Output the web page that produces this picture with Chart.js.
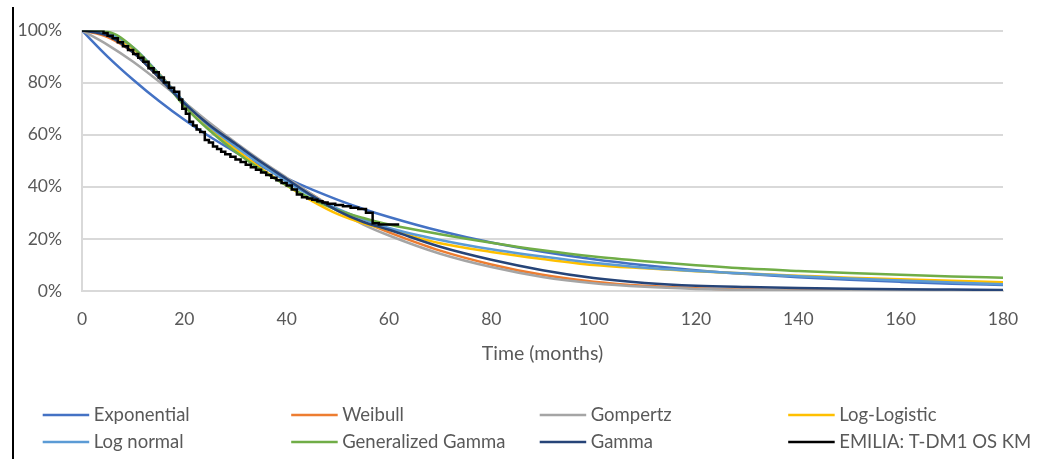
<!DOCTYPE html>
<html>
<head>
<meta charset="utf-8">
<script src="https://cdn.jsdelivr.net/npm/chart.js@4.4.1/dist/chart.umd.min.js"></script>
<style>
  html, body { margin: 0; padding: 0; background: #fff; }
  #wrap { position: relative; width: 1040px; height: 459px; }
</style>
</head>
<body>
<div id="wrap"><canvas id="survChart" width="1040" height="459"></canvas></div>
<script>
// time points (months) for the fitted curves
const months = [0, 5, 10, 15, 20, 25, 30, 35, 40, 45, 50, 55, 60, 70, 80, 90, 100, 110, 120, 130, 140, 150, 160, 170, 180];

// survival (%)
const exponential = [100, 90.0, 81.1, 73.0, 65.7, 59.2, 53.3, 47.9, 43.2, 38.9, 35.0, 31.5, 28.4, 23.0, 18.6, 15.1, 12.2, 9.9, 8.0, 6.5, 5.3, 4.3, 3.5, 2.8, 2.3];
const weibull = [100, 97.5, 91.5, 82, 72, 64, 56.5, 49.5, 43, 37, 31, 26.5, 22.5, 15.5, 10.2, 6.2, 3.6, 2.0, 1.1, 0.6, 0.3, 0.15, 0.08, 0.04, 0.02];
const gompertz = [100, 94.5, 88, 80.5, 72.5, 64.5, 57, 50, 43.5, 37, 30.8, 25.5, 21.3, 14.3, 9.2, 5.4, 3.0, 1.6, 0.8, 0.35, 0.15, 0.06, 0.02, 0.01, 0];
const logLogistic = [100, 98.5, 93, 83.5, 72.5, 62.5, 54.5, 47, 40.5, 34.5, 29.5, 26, 23.5, 18.3, 15, 12.3, 10.0, 8.7, 7.6, 6.7, 5.9, 5.1, 4.5, 3.9, 3.4];
const logNormal = [100, 99, 93.5, 83.5, 72.5, 63, 55.5, 48.5, 42, 36.3, 31.5, 27.5, 24.2, 19.6, 16.0, 13.2, 10.8, 8.9, 7.7, 6.7, 5.7, 4.8, 4.0, 3.3, 2.6];
const genGamma = [100, 99.5, 93.5, 83, 71, 61.5, 53.5, 46.5, 40.5, 35.3, 31, 28, 25.5, 21.8, 18.5, 15.6, 13.2, 11.4, 9.9, 8.6, 7.7, 6.9, 6.2, 5.6, 5.1];
const gamma = [100, 98, 91.5, 82, 72, 63.5, 56.5, 49.5, 43, 36.5, 30.8, 26.5, 23.5, 17, 12, 8, 5, 3.1, 2.0, 1.5, 1.15, 0.9, 0.7, 0.55, 0.4];

// Kaplan-Meier steps
const kmTime = [0, 4.2, 5, 6, 7, 8, 9, 10, 11, 12, 13, 14, 15, 16, 17, 18, 19, 19.6, 20.3, 21, 21.7, 22.4, 23.1, 24, 24.8, 25.6, 26.4, 27.2, 28, 29, 30, 31, 32, 33, 34, 35, 36, 37, 38, 39, 40, 41, 42, 43, 44, 45, 46, 47, 48, 49.5, 51, 52.5, 54, 55.5, 56.8, 58, 62];
const kmSurv = [100, 99, 98, 97, 95.5, 94, 92.5, 91, 89.5, 88, 85.5, 84, 82, 80, 78, 76.5, 73.5, 70, 68, 65, 63.5, 62, 61, 58, 57, 55.5, 54.5, 53.5, 52.5, 51.5, 50.5, 49.5, 48.5, 47.5, 46.5, 45.5, 44.5, 43.5, 42.5, 41.5, 40.5, 39, 37, 36, 35.5, 35, 34.5, 34, 33.5, 33, 32.5, 32, 31.5, 30, 26, 25.5, 25.5];

const yTicks = [0, 20, 40, 60, 80, 100];
const xTicks = [0, 20, 40, 60, 80, 100, 120, 140, 160, 180];

const seriesNames = ['Exponential', 'Weibull', 'Gompertz', 'Log-Logistic', 'Log normal', 'Generalized Gamma', 'Gamma', 'EMILIA: T-DM1 OS KM'];
const seriesColors = ['#4472C4', '#ED7D31', '#A5A5A5', '#FFC000', '#5B9BD5', '#70AD47', '#264478', '#000000'];
const curves = [exponential, weibull, gompertz, logLogistic, logNormal, genGamma, gamma];

const FONT = 'Lato, "Open Sans", sans-serif';
const TEXT = '#595959';

function toPoints(xs, ys) {
    return xs.map((x, i) => ({ x: x, y: ys[i] }));
}

const datasets = curves.map((c, i) => ({
    label: seriesNames[i],
    data: toPoints(months, c),
    borderColor: seriesColors[i],
    borderWidth: 2.5,
    pointRadius: 0,
    cubicInterpolationMode: 'monotone',
    order: 7 - i
}));
datasets.push({
    label: seriesNames[7],
    data: toPoints(kmTime, kmSurv),
    borderColor: seriesColors[7],
    borderWidth: 2.5,
    pointRadius: 0,
    stepped: 'before',
    order: 0
});

// left frame line + bottom legend in fixed columns
const extras = {
    id: 'extras',
    afterDraw(chart) {
        const ctx = chart.ctx;
        ctx.save();
        ctx.strokeStyle = '#000';
        ctx.lineWidth = 2;
        ctx.beginPath();
        ctx.moveTo(13, 7);
        ctx.lineTo(13, 459);
        ctx.stroke();

        ctx.font = '18.5px ' + FONT;
        ctx.textBaseline = 'middle';
        ctx.fillStyle = TEXT;
        seriesNames.forEach((name, i) => {
            const col = i % 4, row = Math.floor(i / 4);
            const x = 42.7 + col * 248.5;
            const y = 415 + row * 27;
            ctx.strokeStyle = seriesColors[i];
            ctx.lineWidth = 2.5;
            ctx.beginPath();
            ctx.moveTo(x, y);
            ctx.lineTo(x + 46.5, y);
            ctx.stroke();
            ctx.fillText(name, x + 51, y);
        });
        ctx.restore();
    }
};

new Chart(document.getElementById('survChart'), {
    type: 'line',
    data: { datasets: datasets },
    options: {
        responsive: false,
        animation: false,
        layout: { padding: { top: 29, right: 37, bottom: 90, left: 0 } },
        plugins: {
            legend: { display: false },
            tooltip: { enabled: false }
        },
        scales: {
            x: {
                type: 'linear',
                min: 0,
                max: 180,
                afterBuildTicks: (s) => { s.ticks = xTicks.map(v => ({ value: v })); },
                afterFit: (s) => { s.height = 78; },
                grid: { display: false, drawTicks: false },
                border: { display: true, color: '#d9d9d9', width: 2 },
                ticks: { padding: 18, color: TEXT, font: { family: FONT, size: 17.5 }, maxRotation: 0 },
                title: {
                    display: true,
                    text: 'Time (months)',
                    color: TEXT,
                    font: { family: FONT, size: 19.5 },
                    padding: { top: 4, bottom: 4 }
                }
            },
            y: {
                min: 0,
                max: 100,
                afterBuildTicks: (s) => { s.ticks = yTicks.map(v => ({ value: v })); },
                afterFit: (s) => { s.width = 82; },
                grid: { color: '#d9d9d9', lineWidth: 2, drawTicks: false },
                border: { display: true, color: '#d9d9d9', width: 2 },
                ticks: {
                    padding: 20,
                    color: TEXT,
                    font: { family: FONT, size: 17.5 },
                    callback: (v) => v + '%'
                }
            }
        }
    },
    plugins: [extras]
});
</script>
</body>
</html>
